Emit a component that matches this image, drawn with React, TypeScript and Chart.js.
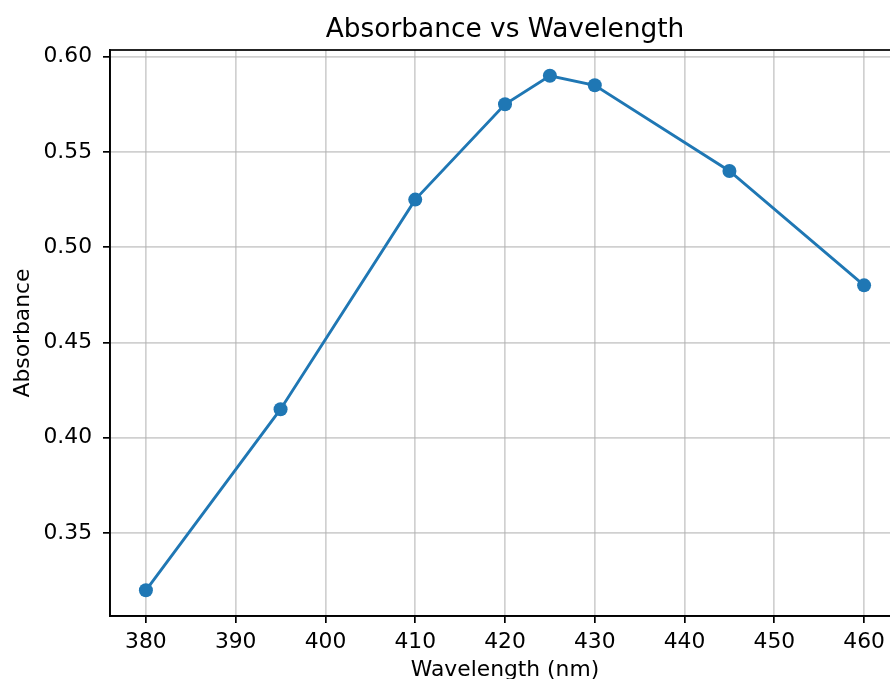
import React, { useEffect, useRef } from "react";
import { Chart, registerables } from "chart.js";

Chart.register(...registerables);

const wavelengths = [380, 395, 410, 420, 425, 430, 445, 460];
const absorbance = [0.32, 0.415, 0.525, 0.575, 0.59, 0.585, 0.54, 0.48];
const xTicks = [380, 390, 400, 410, 420, 430, 440, 450, 460];
const yTicks = [0.35, 0.4, 0.45, 0.5, 0.55, 0.6];
const titleText = "Absorbance vs Wavelength";
const xLabel = "Wavelength (nm)";
const yLabel = "Absorbance";

const FONT = "'DejaVu Sans', sans-serif";

const frameAndTitle = {
  id: "frameAndTitle",
  afterDraw(chart: any) {
    const { ctx, chartArea } = chart;
    ctx.save();
    ctx.strokeStyle = "#000";
    ctx.lineWidth = 1.7;
    ctx.strokeRect(chartArea.left, chartArea.top, chartArea.right - chartArea.left, chartArea.bottom - chartArea.top);
    ctx.fillStyle = "#000";
    ctx.font = `26.4px ${FONT}`;
    ctx.textAlign = "center";
    ctx.textBaseline = "alphabetic";
    ctx.fillText(titleText, (chartArea.left + chartArea.right) / 2, chartArea.top - 13);
    ctx.restore();
  },
};

export default function App() {
  const ref = useRef<HTMLCanvasElement>(null);
  useEffect(() => {
    if (!ref.current) return;
    const chart = new Chart(ref.current, {
      type: "line",
      data: {
        datasets: [
          {
            data: wavelengths.map((x, i) => ({ x, y: absorbance[i] })),
            borderColor: "#1f77b4",
            backgroundColor: "#1f77b4",
            borderWidth: 2.9,
            pointRadius: 7,
            pointHoverRadius: 7,
            pointBorderWidth: 0,
            pointBackgroundColor: "#1f77b4",
            tension: 0,
            fill: false,
          },
        ],
      },
      plugins: [frameAndTitle],
      options: {
        animation: false,
        responsive: false,
        devicePixelRatio: 1,
        layout: { autoPadding: false, padding: { top: 50, left: 0, right: 0, bottom: 0 } },
        plugins: { legend: { display: false }, tooltip: { enabled: false }, title: { display: false } },
        scales: {
          x: {
            type: "linear",
            min: 376,
            max: 464,
            afterBuildTicks: (s: any) => {
              s.ticks = xTicks.map((v) => ({ value: v }));
            },
            afterFit: (s: any) => {
              s.height = 63;
              s.paddingLeft = 0;
              s.paddingRight = 0;
            },
            ticks: {
              color: "#000",
              font: { family: FONT, size: 21.8 },
              padding: 6,
              maxRotation: 0,
              autoSkip: false,
            },
            grid: {
              color: "rgba(176,176,176,0.6)",
              lineWidth: 1.7,
              tickColor: "#000",
              tickWidth: 1.7,
              tickLength: 7,
              drawTicks: true,
            },
            border: { display: true, color: "#000", width: 1.7 },
            title: {
              display: true,
              text: xLabel,
              color: "#000",
              font: { family: FONT, size: 21.8 },
              padding: { top: 0, bottom: -4.5 },
            },
          },
          y: {
            type: "linear",
            min: 0.3065,
            max: 0.6035,
            afterBuildTicks: (s: any) => {
              s.ticks = yTicks.map((v) => ({ value: v }));
            },
            afterFit: (s: any) => {
              s.width = 110;
              s.paddingTop = 0;
              s.paddingBottom = 0;
            },
            ticks: {
              color: "#000",
              font: { family: FONT, size: 21.8 },
              padding: 11,
              callback: (v: any) => Number(v).toFixed(2),
            },
            grid: {
              color: "rgba(176,176,176,0.6)",
              lineWidth: 1.7,
              tickColor: "#000",
              tickWidth: 1.7,
              tickLength: 7,
              drawTicks: true,
            },
            border: { display: true, color: "#000", width: 1.7 },
            title: {
              display: true,
              text: yLabel,
              color: "#000",
              font: { family: FONT, size: 21.8 },
              padding: { top: 10, bottom: 0 },
            },
          },
        },
      },
    });
    return () => chart.destroy();
  }, []);
  return (
    <div
      style={{
        position: "fixed",
        left: 0,
        top: 0,
        width: 890,
        height: 679,
        overflow: "hidden",
        background: "#fff",
      }}
    >
      <canvas ref={ref} width={900} height={679} style={{ display: "block", width: 900, height: 679 }} />
    </div>
  );
}
